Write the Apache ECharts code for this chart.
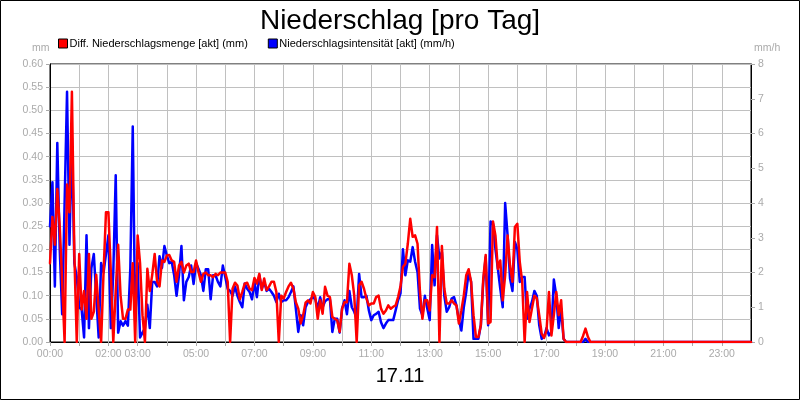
<!DOCTYPE html>
<html>
<head>
<meta charset="utf-8">
<script src="https://cdn.jsdelivr.net/npm/echarts@6/dist/echarts.min.js"></script>
<style>
html,body{margin:0;padding:0;background:#fff;}
#chart{width:800px;height:400px;}
</style>
</head>
<body>
<div id="chart"></div>
<script>
// ---- data (5-minute steps from 00:00 to 24:00) ----
const stepMinutes = 5;
const seriesNames = ['Diff. Niederschlagsmenge [akt] (mm)', 'Niederschlagsintensität [akt] (mm/h)'];
const xLabelHours = [0, 2, 3, 5, 7, 9, 11, 13, 15, 17, 19, 21, 23];
const dateLabel = '17.11';

// Diff. Niederschlagsmenge (mm), left axis
const amountMm = [
  0.17,0.27,0.21,0.33,0.25,0.13,0.0,0.34,0.28,0.54,0.19,0.0,
  0.19,0.07,0.11,0.05,0.19,0.05,0.065,0.145,0.07,0.0,0.15,0.28,
  0.28,0.15,0.0,0.11,0.21,0.10,0.05,0.05,0.07,0.07,0.17,0.0,
  0.23,0.17,0.058,0.0,0.158,0.11,0.145,0.19,0.13,0.12,0.176,0.173,
  0.187,0.188,0.176,0.173,0.13,0.165,0.173,0.15,0.165,0.169,0.151,0.151,
  0.176,0.151,0.13,0.147,0.15,0.144,0.144,0.14,0.147,0.144,0.15,0.15,
  0.15,0.13,0.0,0.115,0.128,0.122,0.092,0.108,0.126,0.128,0.115,0.112,
  0.138,0.126,0.147,0.112,0.137,0.112,0.12,0.13,0.13,0.108,0.0,0.10,
  0.094,0.108,0.12,0.128,0.115,0.086,0.072,0.04,0.058,0.085,0.09,0.083,
  0.108,0.097,0.05,0.09,0.061,0.119,0.10,0.097,0.054,0.05,0.047,0.022,
  0.072,0.086,0.086,0.169,0.144,0.10,0.0,0.122,0.13,0.115,0.094,0.079,
  0.083,0.083,0.097,0.10,0.072,0.061,0.068,0.079,0.072,0.076,0.079,0.097,
  0.12,0.162,0.169,0.212,0.266,0.227,0.23,0.212,0.108,0.05,0.09,0.09,
  0.068,0.144,0.14,0.248,0.0,0.207,0.115,0.083,0.083,0.09,0.083,0.079,
  0.04,0.068,0.10,0.144,0.157,0.13,0.058,0.011,0.011,0.036,0.137,0.188,
  0.04,0.043,0.26,0.23,0.158,0.176,0.09,0.144,0.23,0.165,0.13,0.248,
  0.255,0.173,0.13,0.0,0.108,0.043,0.072,0.10,0.094,0.058,0.018,0.009,
  0.025,0.108,0.014,0.058,0.108,0.058,0.09,0.007,0,0,0,0,
  0,0,0,0.013,0.029,0.011,0,0,0,0,0,0,
  0,0,0,0,0,0,0,0,0,0,0,0,
  0,0,0,0,0,0,0,0,0,0,0,0,
  0,0,0,0,0,0,0,0,0,0,0,0,
  0,0,0,0,0,0,0,0,0,0,0,0,
  0,0,0,0,0,0,0,0,0,0,0,0,
  0
];

// Niederschlagsintensität (mm/h), right axis
const intensityMmH = [
  3.33,4.6,1.6,5.73,2.67,0.8,4.0,7.2,2.8,5.87,2.27,1.87,
  1.0,0.93,0.13,3.07,0.4,2.13,2.53,1.33,0.13,2.27,2.0,2.53,
  3.07,0.4,2.0,4.8,0.27,0.6,0.47,0.6,0.47,2.13,6.2,0.6,
  2.27,0.13,0.27,0.4,1.07,0.4,1.73,1.73,1.6,2.47,2.13,2.76,
  2.49,2.27,2.31,1.93,1.33,1.92,2.76,1.2,1.73,1.87,2.2,1.67,
  2.27,2.11,1.92,1.47,2.09,2.09,1.23,1.92,1.92,1.73,1.6,2.2,
  1.87,1.53,1.47,1.33,1.6,1.33,1.15,1.0,1.68,1.53,1.44,1.23,
  1.73,1.29,1.92,1.53,1.73,1.47,1.53,1.44,1.33,1.15,1.39,1.15,
  1.2,1.2,1.29,1.44,1.6,0.96,0.29,0.77,0.48,1.0,1.15,1.23,
  1.29,1.23,0.96,1.29,1.0,1.17,1.23,1.23,0.29,0.67,0.67,0.27,
  0.96,1.2,0.8,1.47,1.0,0.87,0.67,1.96,1.29,1.29,1.33,0.91,
  0.63,0.77,0.81,0.87,0.57,0.4,0.53,0.63,0.63,0.63,0.91,1.2,
  1.4,2.67,1.92,2.35,2.31,2.73,2.31,2.01,0.96,0.77,1.33,0.96,
  0.63,2.79,1.63,3.07,2.4,2.59,1.33,0.87,1.0,1.25,1.29,1.05,
  0.63,0.33,1.0,1.44,2.0,1.73,0.09,0.09,0.09,0.48,1.73,2.44,
  0.48,3.47,3.4,2.67,2.11,1.53,1.0,4.0,3.07,1.83,1.47,2.88,
  2.67,1.73,1.87,1.87,0.67,0.96,1.15,1.47,1.33,0.48,0.09,0.15,
  0.4,0.19,0.29,1.8,1.33,0.4,0.96,0.09,0,0,0,0,
  0,0,0,0,0.09,0,0,0,0,0,0,0,
  0,0,0,0,0,0,0,0,0,0,0,0,
  0,0,0,0,0,0,0,0,0,0,0,0,
  0,0,0,0,0,0,0,0,0,0,0,0,
  0,0,0,0,0,0,0,0,0,0,0,0,
  0,0,0,0,0,0,0,0,0,0,0,0,
  0
];

function toPairs(arr){ return arr.map((v,i)=>[i*stepMinutes, v]); }
function pad2(n){ return (n<10?'0':'')+n; }

const gray = '#aaaaaa';
const gridGray = '#c0c0c0';
const font = 'Liberation Sans, Arial, sans-serif';

const chart = echarts.init(document.getElementById('chart'), null, {renderer:'canvas'});
chart.setOption({
  animation:false,
  backgroundColor:'#ffffff',
  textStyle:{fontFamily:font},
  title:{
    text:'Niederschlag [pro Tag]',
    left:'center', top:2,
    textStyle:{fontSize:28, fontWeight:'normal', color:'#000', fontFamily:font}
  },
  legend:{
    data:seriesNames,
    left:58, top:38, padding:0,
    icon:'rect', itemWidth:9, itemHeight:9, itemGap:20,
    textStyle:{fontSize:11, color:'#000', fontFamily:font, padding:[0,0,0,-3]},
    itemStyle:{borderColor:'#000', borderWidth:1}
  },
  grid:{left:50, right:49, top:64, bottom:58, show:true, borderColor:'#000', borderWidth:1},
  xAxis:{
    type:'value', min:0, max:1440, interval:60,
    axisLine:{lineStyle:{color:'#000', width:1}},
    axisTick:{show:true, length:4, lineStyle:{color:gray}},
    splitLine:{show:true, lineStyle:{color:gridGray, width:1}},
    axisLabel:{
      color:gray, fontSize:10.5, margin:7, fontFamily:font,
      showMaxLabel:false,
      formatter:function(v){
        const h = Math.round(v/60);
        return xLabelHours.indexOf(h) >= 0 && h < 24 ? pad2(h)+':00' : '';
      }
    }
  },
  yAxis:[{
    type:'value', min:0, max:0.6, interval:0.05, position:'left',
    axisLine:{show:true, lineStyle:{color:'#000'}},
    axisTick:{show:true, length:4, lineStyle:{color:gray}},
    splitLine:{show:true, lineStyle:{color:gridGray, width:1}},
    axisLabel:{color:gray, fontSize:10.5, margin:7, fontFamily:font,
      formatter:function(v){ return v.toFixed(2); }}
  },{
    type:'value', min:0, max:8, interval:1, position:'right',
    axisLine:{show:true, lineStyle:{color:'#000'}},
    axisTick:{show:true, length:4, lineStyle:{color:gray}},
    splitLine:{show:false},
    axisLabel:{color:gray, fontSize:10.5, margin:7, fontFamily:font}
  }],
  series:[{
    name:seriesNames[1], type:'line', yAxisIndex:1,
    data:toPairs(intensityMmH), showSymbol:false, symbol:'none',
    color:'#0000ff',
    lineStyle:{color:'#0000ff', width:2.5, cap:'round', join:'round'},
    z:2
  },{
    name:seriesNames[0], type:'line', yAxisIndex:0,
    data:toPairs(amountMm), showSymbol:false, symbol:'none',
    color:'#ff0000',
    lineStyle:{color:'#ff0000', width:2.5, cap:'round', join:'round'},
    z:3
  }],
  graphic:[
    {type:'rect', shape:{x:0.5, y:0.5, width:799, height:399}, style:{fill:null, stroke:'#000', lineWidth:1}, silent:true},
    {type:'text', left:32, top:43, style:{text:'mm', fill:gray, font:'10.5px '+font}},
    {type:'text', left:754, top:43, style:{text:'mm/h', fill:gray, font:'10.5px '+font}},
    {type:'text', left:'center', top:366, style:{text:dateLabel, fill:'#000', font:'20px '+font}}
  ]
});
</script>
</body>
</html>
